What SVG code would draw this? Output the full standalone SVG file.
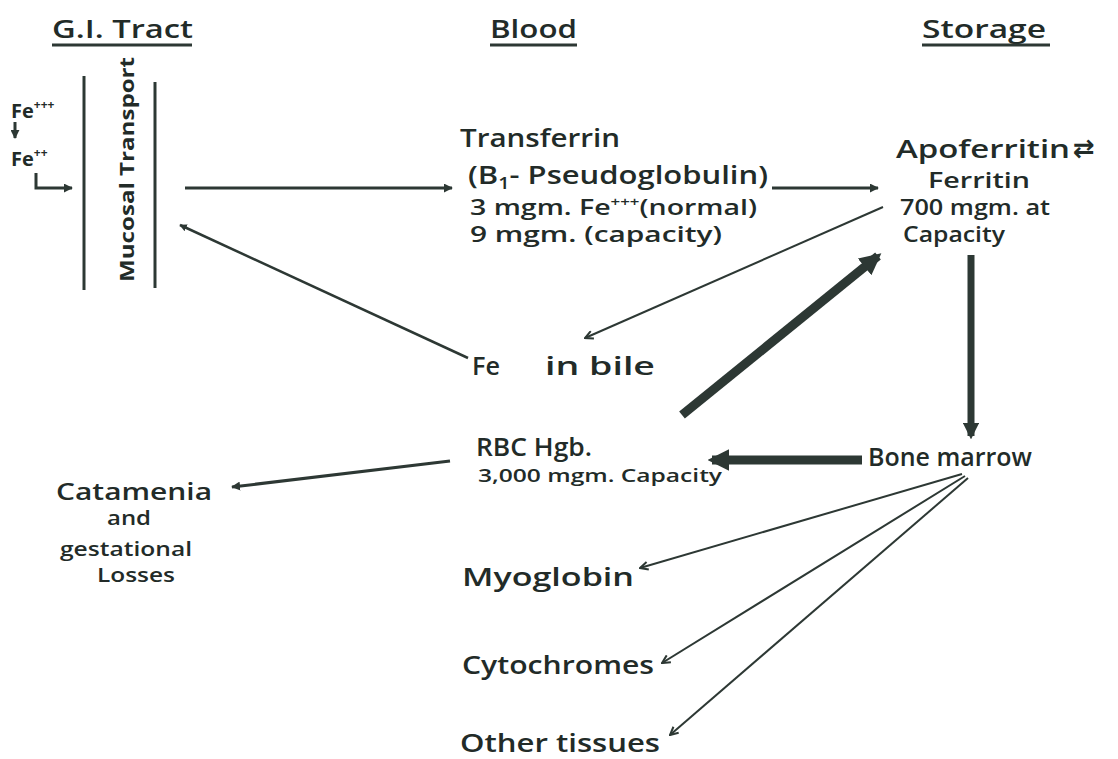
<svg xmlns="http://www.w3.org/2000/svg" width="1118" height="759" viewBox="0 0 1118 759">
<defs>
<style>
text{font-family:"Open Sans","DejaVu Sans",sans-serif;fill:#222b28;font-weight:600}
.h{font-size:26px}
.m{font-size:25px}
.s{font-size:21px}
.t{font-size:17px;font-weight:700}
line,path{stroke:#2d3834;fill:none}
.thin{stroke-width:2}
.med{stroke-width:3}
.thick{stroke-width:9}
</style>
<marker id="ah" viewBox="0 0 10 10" refX="9" refY="5" markerWidth="5" markerHeight="5" orient="auto-start-reverse" markerUnits="strokeWidth">
<path d="M1,1 L9,5 L1,9" style="stroke:#2d3834;stroke-width:2;fill:none"/>
</marker>
<marker id="ahs" viewBox="0 0 10 10" refX="9" refY="5" markerWidth="3" markerHeight="3" orient="auto" markerUnits="strokeWidth">
<path d="M0,0 L10,5 L0,10 Z" style="fill:#2d3834;stroke:none"/>
</marker>
<marker id="ahb" viewBox="0 0 10 10" refX="8" refY="5" markerWidth="2.4" markerHeight="2.4" orient="auto" markerUnits="strokeWidth">
<path d="M0,0 L10,5 L0,10 Z" style="fill:#2d3834;stroke:none"/>
</marker>
</defs>

<g id="headers">
<text class="h" x="52" y="38" textLength="141" lengthAdjust="spacingAndGlyphs">G.I. Tract</text>
<line x1="52" y1="45" x2="192" y2="45" class="med"/>
<text class="h" x="490" y="38" textLength="87" lengthAdjust="spacingAndGlyphs">Blood</text>
<line x1="490" y1="45" x2="577" y2="45" class="med"/>
<text class="h" x="922" y="38" textLength="124" lengthAdjust="spacingAndGlyphs">Storage</text>
<line x1="922" y1="45" x2="1050" y2="45" class="med"/>
</g>

<g id="gi-tract">
<line x1="84" y1="76" x2="84" y2="290" class="med"/>
<line x1="155" y1="82" x2="155" y2="288" class="med"/>
<text class="t" transform="translate(134,282) rotate(-90)" textLength="225" lengthAdjust="spacingAndGlyphs" style="font-size:19px">Mucosal Transport</text>
<text class="t" x="11" y="118" style="font-size:20px">Fe<tspan dy="-9" style="font-size:12px">+++</tspan></text>
<line x1="15" y1="122" x2="15" y2="138" class="med" marker-end="url(#ahs)"/>
<text class="t" x="11" y="166" style="font-size:20px">Fe<tspan dy="-9" style="font-size:12px">++</tspan></text>
<path d="M36,173 L36,188 L72,188" class="med" marker-end="url(#ahs)"/>
</g>

<g id="transferrin">
<text class="m" x="460" y="147" textLength="160" lengthAdjust="spacingAndGlyphs">Transferrin</text>
<text class="m" x="468" y="184" textLength="300" lengthAdjust="spacingAndGlyphs">(B<tspan dy="5" style="font-size:16px">1</tspan><tspan dy="-5">- Pseudoglobulin)</tspan></text>
<text class="s" x="470" y="215" style="font-size:22px" textLength="287" lengthAdjust="spacingAndGlyphs">3 mgm. Fe<tspan dy="-9" style="font-size:13px">+++</tspan><tspan dy="9">(normal)</tspan></text>
<text class="s" x="470" y="242" textLength="252" lengthAdjust="spacingAndGlyphs">9 mgm. (capacity)</text>
</g>

<g id="storage">
<text class="m" x="896" y="158" textLength="174" lengthAdjust="spacingAndGlyphs">Apoferritin</text>
<text class="m" x="1073" y="157" style="font-size:26px">⇄</text>
<text class="s" x="928" y="188" textLength="102" lengthAdjust="spacingAndGlyphs">Ferritin</text>
<text class="s" x="900" y="215" textLength="150" lengthAdjust="spacingAndGlyphs">700 mgm. at</text>
<text class="s" x="903" y="242" textLength="102" lengthAdjust="spacingAndGlyphs">Capacity</text>
</g>

<g id="fe-bile">
<text class="m" x="472" y="375" textLength="28" lengthAdjust="spacingAndGlyphs">Fe</text>
<text class="m" x="545" y="375" textLength="110" lengthAdjust="spacingAndGlyphs">in bile</text>
</g>

<g id="rbc">
<text class="m" x="476" y="456" textLength="116" lengthAdjust="spacingAndGlyphs">RBC  Hgb.</text>
<text class="s" x="478" y="482" textLength="244" lengthAdjust="spacingAndGlyphs" style="font-size:18px">3,000 mgm. Capacity</text>
</g>

<g id="bone-marrow">
<text class="m" x="868" y="466" textLength="164" lengthAdjust="spacingAndGlyphs">Bone marrow</text>
</g>

<g id="losses">
<text class="m" x="56" y="500" textLength="156" lengthAdjust="spacingAndGlyphs" style="font-size:24px">Catamenia</text>
<text class="s" x="107" y="525" textLength="44" lengthAdjust="spacingAndGlyphs" style="font-size:19px">and</text>
<text class="s" x="60" y="556" textLength="132" lengthAdjust="spacingAndGlyphs" style="font-size:19px">gestational</text>
<text class="s" x="97" y="582" textLength="78" lengthAdjust="spacingAndGlyphs" style="font-size:19px">Losses</text>
</g>

<g id="myoglobin"><text class="m" x="462" y="586" textLength="172" lengthAdjust="spacingAndGlyphs">Myoglobin</text></g>
<g id="cytochromes"><text class="m" x="462" y="674" textLength="192" lengthAdjust="spacingAndGlyphs">Cytochromes</text></g>
<g id="other-tissues"><text class="m" x="460" y="752" textLength="200" lengthAdjust="spacingAndGlyphs">Other tissues</text></g>

<g id="connectors">
<line x1="185" y1="188" x2="452" y2="188" class="med" marker-end="url(#ahs)"/>
<line x1="468" y1="358" x2="180" y2="225" class="thin" marker-end="url(#ahs)" style="stroke-width:2.5"/>
<line x1="772" y1="188" x2="878" y2="188" class="med" marker-end="url(#ahs)"/>
<line x1="883" y1="207" x2="585" y2="338" class="thin" marker-end="url(#ah)"/>
<line x1="682" y1="415" x2="878" y2="256" class="thick" marker-end="url(#ahb)"/>
<line x1="971" y1="255" x2="971" y2="436" style="stroke-width:7" marker-end="url(#ahb)"/>
<line x1="862" y1="460" x2="712" y2="460" class="thick" marker-end="url(#ahb)"/>
<line x1="450" y1="461" x2="232" y2="487" class="med" marker-end="url(#ahs)"/>
<line x1="962" y1="474" x2="640" y2="568" class="thin" marker-end="url(#ah)"/>
<line x1="965" y1="476" x2="662" y2="663" class="thin" marker-end="url(#ah)"/>
<line x1="968" y1="478" x2="670" y2="735" class="thin" marker-end="url(#ah)"/>
</g>
</svg>
